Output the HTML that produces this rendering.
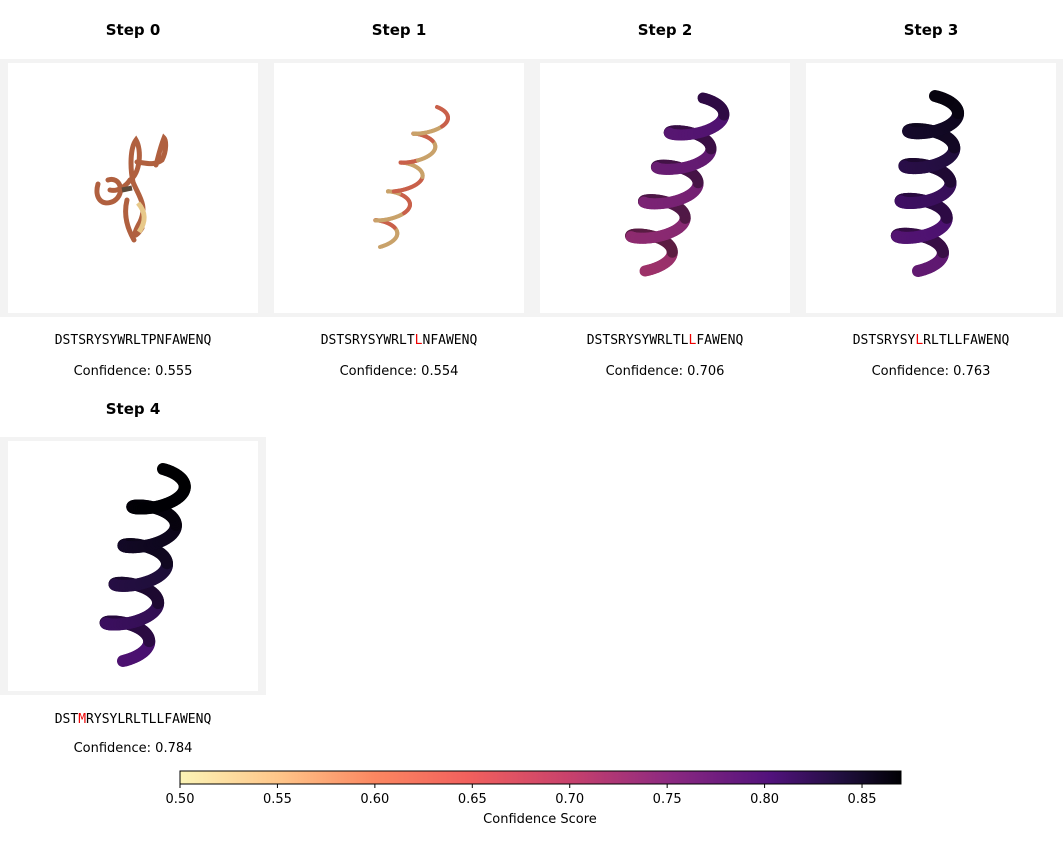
<!DOCTYPE html>
<html><head><meta charset="utf-8"><style>
body{margin:0;background:#fff;width:1063px;height:838px;overflow:hidden;font-family:"DejaVu Sans","Liberation Sans",sans-serif;}
</style></head><body>
<svg id="fig" width="1063" height="838" xmlns="http://www.w3.org/2000/svg">
<defs>
<linearGradient id="magma" x1="0" x2="1" y1="0" y2="0">
<stop offset="0" stop-color="#fcf4b6"/><stop offset="0.14" stop-color="#fec488"/>
<stop offset="0.27" stop-color="#fb8761"/><stop offset="0.4" stop-color="#f1605d"/>
<stop offset="0.54" stop-color="#c8416c"/><stop offset="0.68" stop-color="#8c2981"/>
<stop offset="0.82" stop-color="#51127c"/><stop offset="0.92" stop-color="#1f0f3d"/>
<stop offset="1" stop-color="#000004"/></linearGradient>
</defs>
<g id="panels"></g>
<g id="cbar"></g>
</svg>
<script>
const steps = ["Step 0","Step 1","Step 2","Step 3","Step 4"];
const confidences = [0.555, 0.554, 0.706, 0.763, 0.784];
const seqs = ["DSTSRYSYWRLTPNFAWENQ","DSTSRYSYWRLTLNFAWENQ","DSTSRYSYWRLTLLFAWENQ","DSTSRYSYLRLTLLFAWENQ","DSTMRYSYLRLTLLFAWENQ"];
const mutPos = [-1, 12, 13, 8, 3];
const cbTicks = [0.50,0.55,0.60,0.65,0.70,0.75,0.80,0.85];
const cbMin = 0.50, cbMax = 0.87;
const NS="http://www.w3.org/2000/svg";
function mk(t,a,p){const e=document.createElementNS(NS,t);for(const k in a)e.setAttribute(k,a[k]);(p||document.getElementById('panels')).appendChild(e);return e;}
const X0=180,X1=901;
function cx(v){return X0+(v-cbMin)/(cbMax-cbMin)*(X1-X0);}
const stops=[[0,[252,244,182]],[0.14,[254,196,136]],[0.27,[251,135,97]],[0.4,[241,96,93]],[0.54,[200,65,108]],[0.68,[140,41,129]],[0.82,[81,18,124]],[0.92,[31,15,61]],[1,[0,0,4]]];
function cmap(v){let t=Math.max(0,Math.min(1,(v-cbMin)/(cbMax-cbMin)));for(let i=1;i<stops.length;i++){if(t<=stops[i][0]){const a=stops[i-1],b=stops[i],f=(t-a[0])/(b[0]-a[0]);return 'rgb('+a[1].map((c,j)=>Math.round(c+(b[1][j]-c)*f)).join(',')+')';}}return 'rgb(0,0,4)';}
function shade(col,k){const m=col.match(/\d+/g).map(Number);return 'rgb('+m.map(c=>Math.round(c*k)).join(',')+')';}
const geo=[null,{t:[437,112],b:[380,242],n:4.5,r:14,w:4,a:5},{t:[703,107],b:[645,262],n:4.5,r:24,w:11,a:9},{t:[935,105],b:[918,262],n:4.5,r:24,w:12,a:9},{t:[163,478],b:[123,652],n:4.5,r:24,w:12,a:9}];
for(let i=0;i<steps.length;i++){
  const col=i%4,row=Math.floor(i/4);
  const gx=col*266, gy=row?437:59;
  const g=mk('g',{});
  
  
  const t=mk('text',{x:gx+133,y:row?414:35,'text-anchor':'middle','font-size':15,'font-weight':'bold',fill:'#000'},g);
  t.textContent=steps[i];
  
  
  mk('rect',{x:gx,y:gy,width:266,height:258,fill:'#f3f3f3'},g);
  const vp=mk('rect',{x:gx+8,y:gy+4,width:250,height:250,fill:'#fff'},g);
  
  
  const c=cmap(confidences[i]);
  if(i===0){
    const p='M98,184 C94,198 102,207 114,201 C126,193 120,176 108,180 M110,190 C118,192 126,186 130,180 C140,174 142,150 136,140 C130,148 130,168 133,182 C138,195 148,205 140,222 C132,236 134,240 142,228 M134,240 C126,226 124,212 127,200 M137,162 C146,163 154,166 162,160 C167,150 166,140 164,138 C160,148 158,158 156,165';
    mk('path',{d:p,fill:'none',stroke:'#b0603f','stroke-width':5,'stroke-linecap':'round'},g);
    mk('path',{d:'M138,203 C146,212 146,222 139,232',fill:'none',stroke:'#e8c98a','stroke-width':5},g);
    mk('path',{d:'M122,190 L132,188',fill:'none',stroke:'#5a4a3a','stroke-width':5},g);
  } else {
    const G=geo[i];let pts=[];const N=240;
    for(let k=0;k<=N;k++){const f=k/N;const x=G.b[0]+(G.t[0]-G.b[0])*f+G.r*Math.sin(2*Math.PI*G.n*f);const y=G.b[1]+(G.t[1]-G.b[1])*f+G.a*Math.cos(2*Math.PI*G.n*f);pts.push([x,y]);}
    for(let k=0;k<N;k++){const f=k/N;const front=Math.cos(2*Math.PI*G.n*f)>0;
      const cc=i===1?(k%40<20?'#c9a26a':'#c9604a'):shade(cmap(confidences[i]+0.04+(f-0.3)*0.08),front?0.9:0.55);
      mk('line',{x1:pts[k][0],y1:pts[k][1],x2:pts[k+1][0],y2:pts[k+1][1],stroke:cc,'stroke-width':G.w,'stroke-linecap':'round'},g);}
  }
  const s=mk('text',{x:gx+133,y:row?723:344,'text-anchor':'middle','font-size':13,'font-family':'"DejaVu Sans Mono","Liberation Mono",monospace',fill:'#000'},g);
  
  
  for(let j=0;j<seqs[i].length;j++){const ts=document.createElementNS(NS,'tspan');ts.textContent=seqs[i][j];if(j===mutPos[i])ts.setAttribute('fill','#e00');s.appendChild(ts);}
  const cf=mk('text',{x:gx+133,y:row?752:375,'text-anchor':'middle','font-size':13,fill:'#000'},g);
  cf.textContent='Confidence: '+confidences[i].toFixed(3);
  
  
}
const cb=document.getElementById('cbar');
mk('rect',{x:X0,y:771,width:X1-X0,height:13,fill:'url(#magma)',stroke:'#000','stroke-width':1},cb);
for(const v of cbTicks){const x=cx(v);
  mk('line',{x1:x,y1:784,x2:x,y2:788,stroke:'#000'},cb);
  const t=mk('text',{x:x,y:803,'text-anchor':'middle','font-size':13,fill:'#000'},cb);t.textContent=v.toFixed(2);
  
  }
const ct=mk('text',{x:540,y:823,'text-anchor':'middle','font-size':13,fill:'#000'},cb);ct.textContent='Confidence Score';


</script>
</body></html>
